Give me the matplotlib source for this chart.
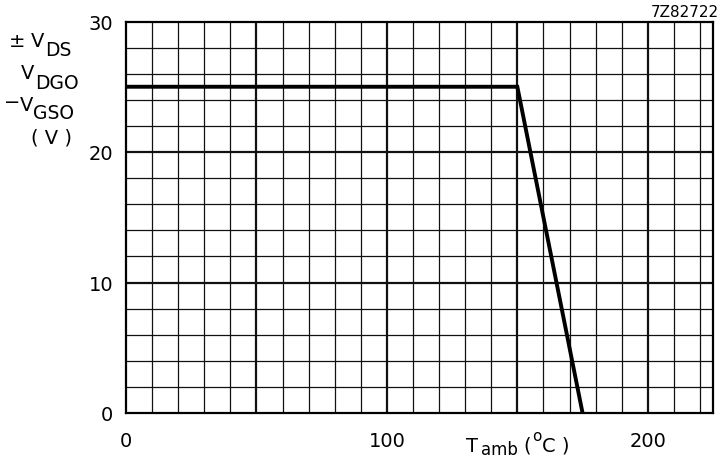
import numpy as np
import matplotlib
matplotlib.use("Agg")
import matplotlib.pyplot as plt

# derating curve
t_amb = [0, 150, 175]
v_max = [25, 25, 0]

x_labels = [0, 100, 200]
y_labels = [0, 10, 20, 30]

W, H = 721, 460

def main():
	plt.rcParams['font.family'] = ['DejaVu Sans']

	fig = plt.figure(figsize=(W / 100, H / 100), dpi=100)
	ax = fig.add_axes([126 / W, 1 - 414 / H, (713 - 126) / W, (414 - 22.5) / H])
	ax.set_xlim(0, 225)
	ax.set_ylim(0, 30)

	# fine grid every 10 degC / 2 V, heavier every 50 degC / 10 V
	for x in np.arange(10, 225, 10):
		lw = 1.6 if x % 50 == 0 else 0.9
		ax.axvline(x, color='#111111', lw=lw, zorder=1)
	for y in np.arange(2, 30, 2):
		lw = 1.6 if y % 10 == 0 else 0.9
		ax.axhline(y, color='#111111', lw=lw, zorder=1)

	ax.plot(t_amb, v_max, color='black', lw=2.8, zorder=3, solid_joinstyle='miter')

	ax.set_xticks(x_labels)
	ax.set_yticks(y_labels)
	ax.tick_params(length=0, labelsize=14)
	ax.tick_params(axis='x', pad=13)
	ax.tick_params(axis='y', pad=9)
	for s in ax.spines.values():
		s.set_linewidth(1.6)

	# text placed by pixel position of its baseline
	def put(x, y, s, fs=14, **kw):
		fig.text(x / W, 1 - y / H, s, fontsize=fs, va='baseline', ha='left', **kw)

	put(9, 47, '\u00b1')
	put(31, 47, 'V')
	put(45, 56, 'DS', 13.5)
	put(21, 79, 'V')
	put(35, 89, 'DGO', 13.5)
	put(4, 108, '\u2212')
	put(20, 111, 'V')
	put(33, 119, 'GSO', 13.5)
	put(31, 143, '( V )')

	put(466, 452, 'T')
	put(481, 455, 'amb', 12)
	put(523, 452, '(')
	put(532, 441, 'o', 11)
	put(542, 452, 'C )')

	fig.text(719 / W, 1 - 17 / H, '7Z82722', fontsize=11, va='baseline', ha='right')

	plt.savefig('out.png', dpi=100)

if __name__ == "__main__":
	main()
